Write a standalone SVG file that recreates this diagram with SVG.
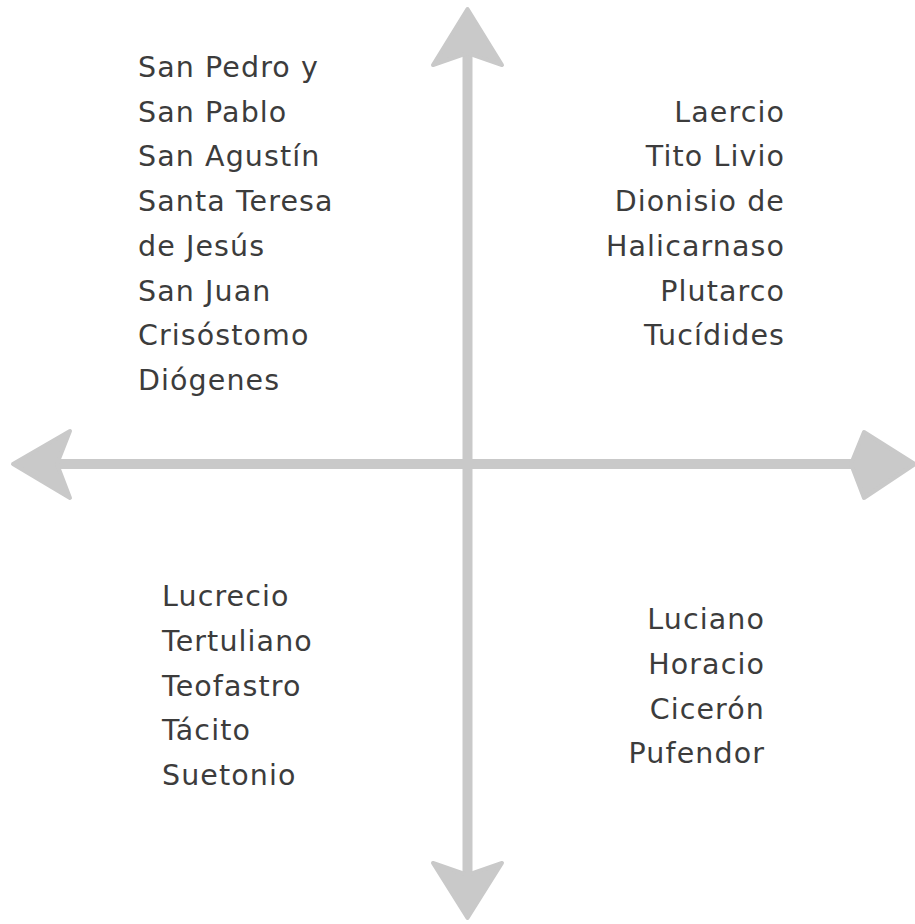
<svg xmlns="http://www.w3.org/2000/svg" width="915" height="924" viewBox="0 0 915 924">
  <style>
    .shaft { stroke: #c9c9c9; stroke-width: 10; fill: none; }
    .head { fill: #c9c9c9; stroke: #c9c9c9; stroke-width: 4; stroke-linejoin: round; }
    text { font-family: "DejaVu Sans", "Open Sans", sans-serif; font-size: 28.5px; fill: #3c3c3c; letter-spacing: 1.1px; }
    .end { text-anchor: end; }
  </style>
  <rect width="915" height="924" fill="#ffffff"/>
  <g id="connectors">
    <line class="shaft" x1="467.5" y1="50" x2="467.5" y2="878"/>
    <line class="shaft" x1="55" y1="464" x2="858" y2="464"/>
    <polygon class="head" points="467.5,9 502,65 467.5,53 433,65"/>
    <polygon class="head" points="467.5,918 502,863 467.5,875 433,863"/>
    <polygon class="head" points="13,464 70,431 57,464 70,498"/>
    <polygon class="head" points="915,464 864,432 851,464 864,498"/>
  </g>
  <g id="top-left">
    <text x="138" y="77">San Pedro y</text>
    <text x="138" y="121.7">San Pablo</text>
    <text x="138" y="166.4">San Agustín</text>
    <text x="138" y="211">Santa Teresa</text>
    <text x="138" y="255.8">de Jesús</text>
    <text x="138" y="300.5">San Juan</text>
    <text x="138" y="345.2">Crisóstomo</text>
    <text x="138" y="390">Diógenes</text>
  </g>
  <g id="top-right">
    <text class="end" x="785" y="121.7">Laercio</text>
    <text class="end" x="785" y="166.4">Tito Livio</text>
    <text class="end" x="785" y="211">Dionisio de</text>
    <text class="end" x="785" y="255.8">Halicarnaso</text>
    <text class="end" x="785" y="300.5">Plutarco</text>
    <text class="end" x="785" y="345.2">Tucídides</text>
  </g>
  <g id="bottom-left">
    <text x="162" y="606">Lucrecio</text>
    <text x="162" y="651">Tertuliano</text>
    <text x="162" y="696">Teofastro</text>
    <text x="162" y="740">Tácito</text>
    <text x="162" y="785">Suetonio</text>
  </g>
  <g id="bottom-right">
    <text class="end" x="765" y="629">Luciano</text>
    <text class="end" x="765" y="674">Horacio</text>
    <text class="end" x="765" y="719">Cicerón</text>
    <text class="end" x="765" y="763">Pufendor</text>
  </g>
</svg>
